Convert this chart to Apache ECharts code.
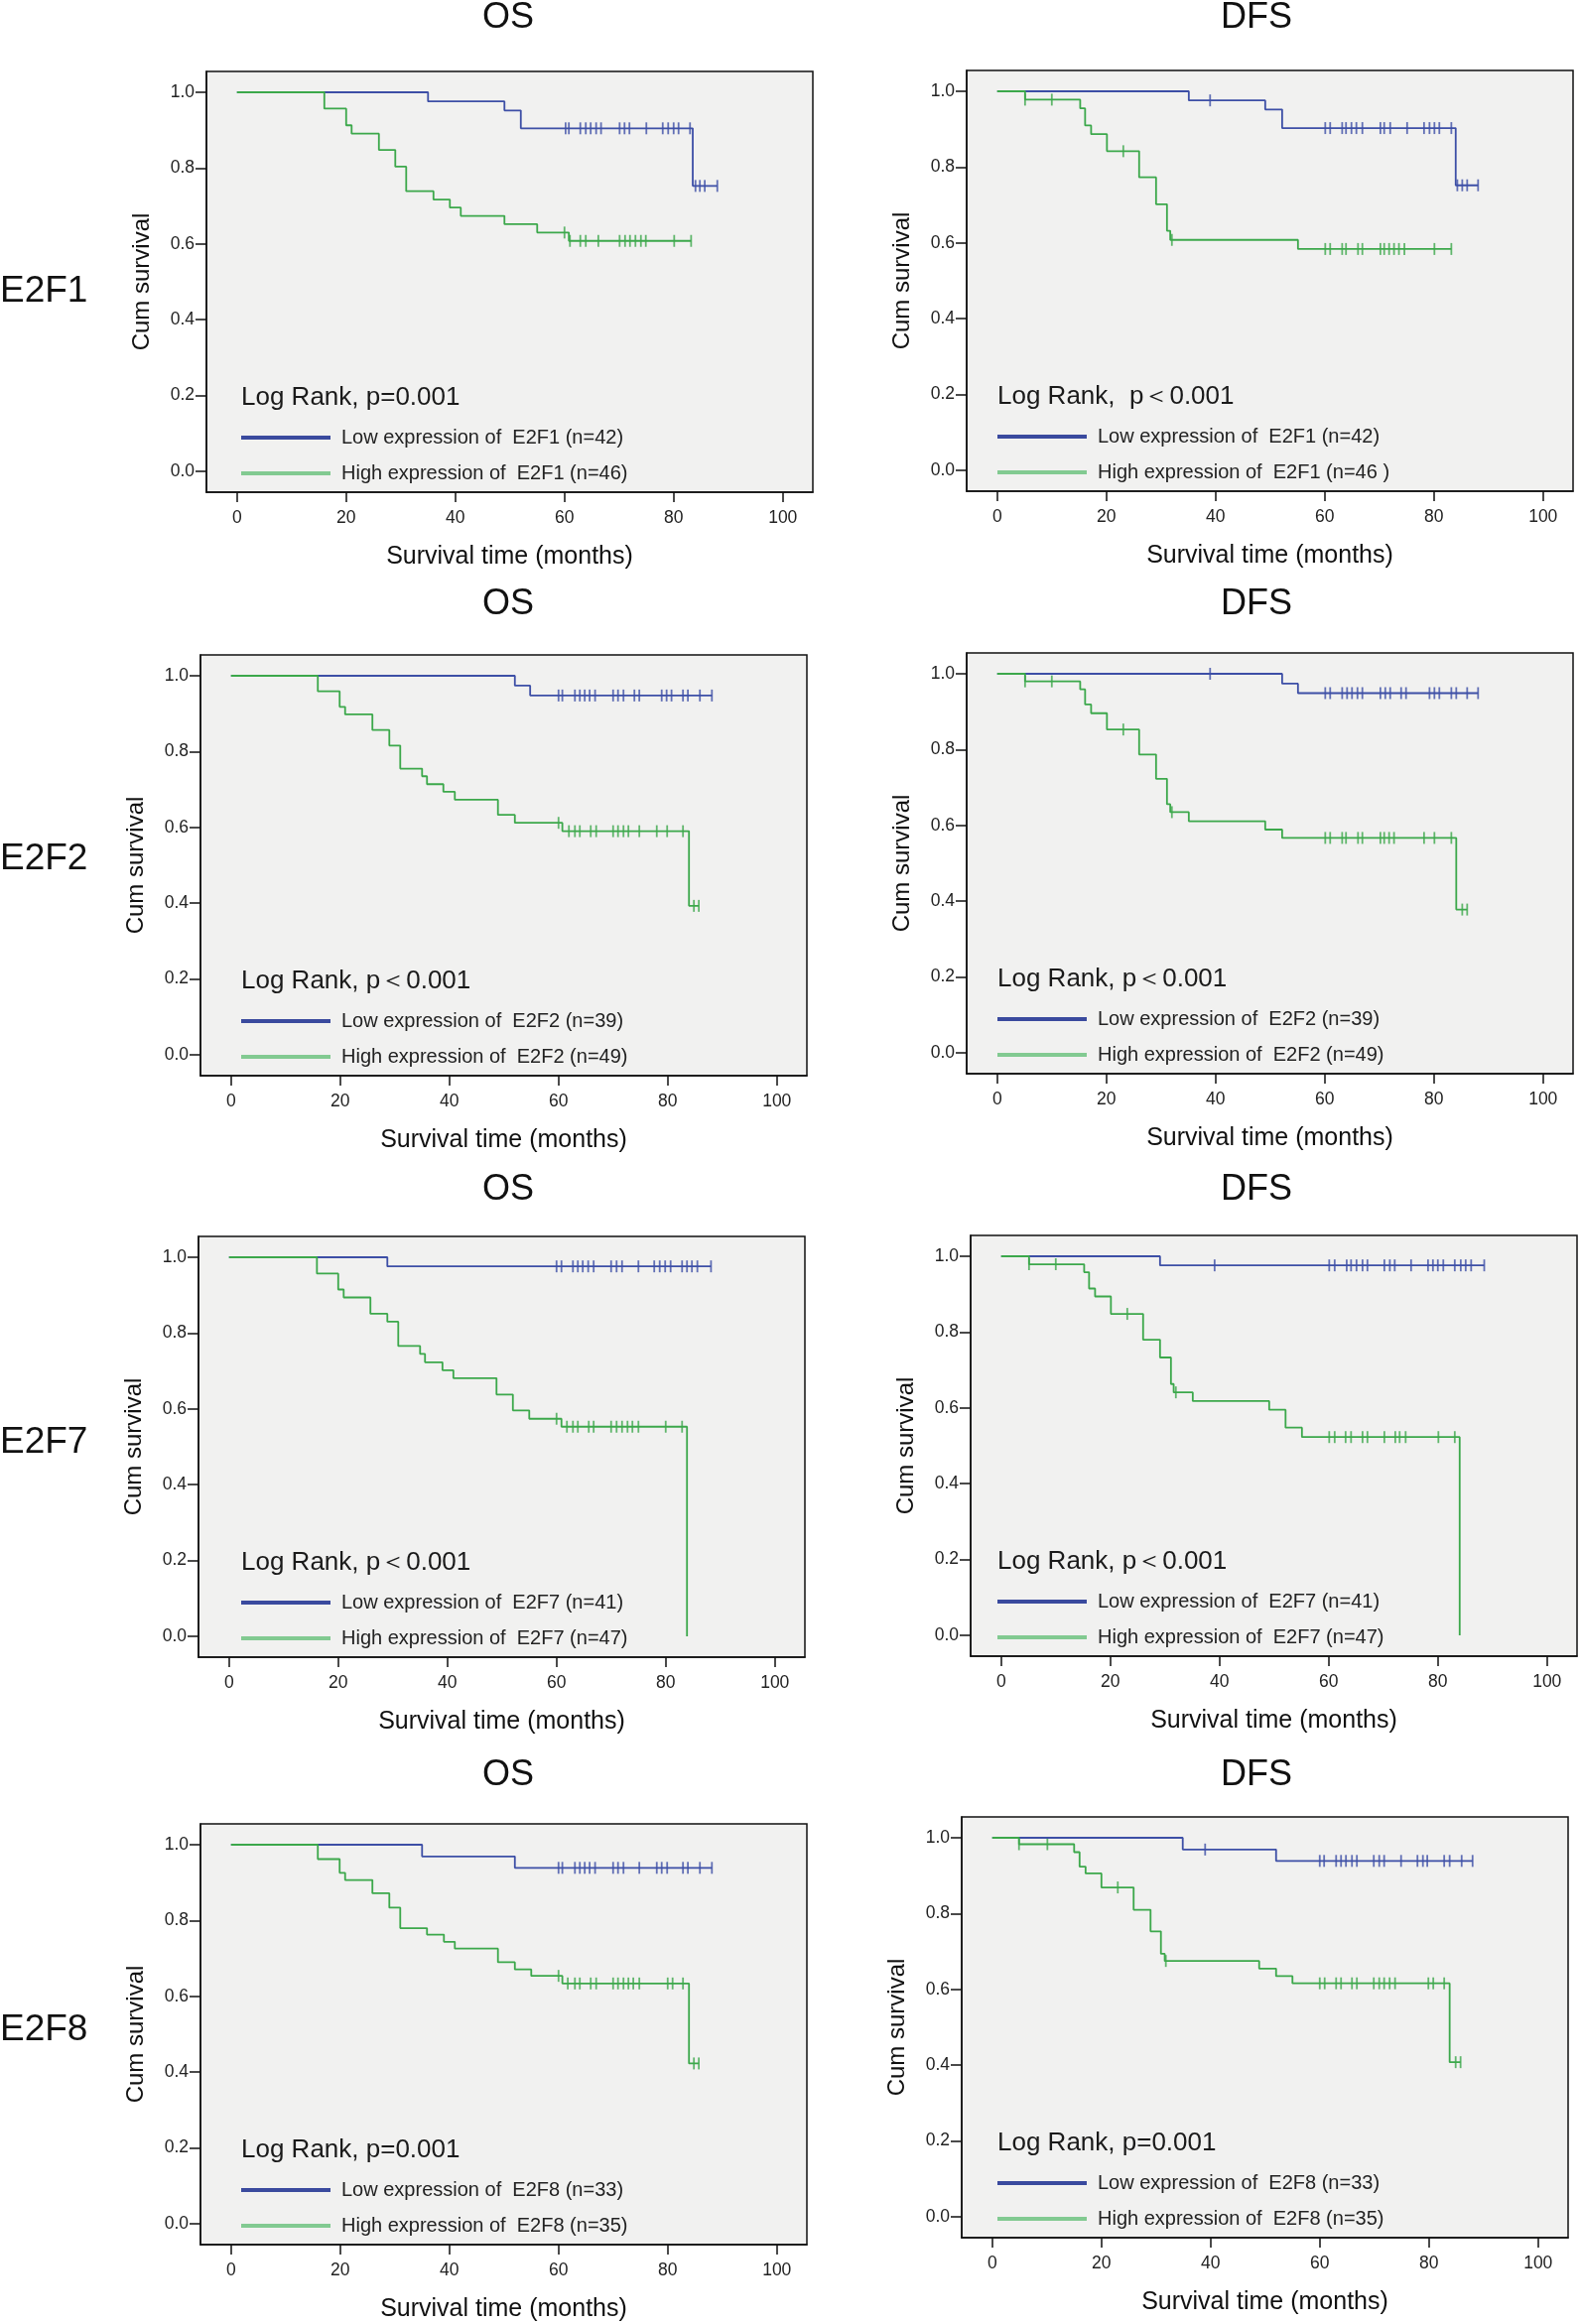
<!DOCTYPE html>
<html>
<head>
<meta charset="utf-8">
<script src="https://cdn.jsdelivr.net/npm/echarts@6/dist/echarts.min.js"></script>
<style>
html,body{margin:0;padding:0;background:#ffffff;}
#chart{width:1593px;height:2342px;}
</style>
</head>
<body>
<div id="chart"></div>
<script>
// ---------- DATA ----------
const xTicks = [0, 20, 40, 60, 80, 100];
const yTicks = [0, 0.2, 0.4, 0.6, 0.8, 1.0];
const genes = ['E2F1', 'E2F2', 'E2F7', 'E2F8'];
const endpoints = ['OS', 'DFS'];
const pTexts = ['Log Rank, p=0.001', 'Log Rank,  p\uFF1C0.001', 'Log Rank, p\uFF1C0.001', 'Log Rank, p\uFF1C0.001',
                'Log Rank, p\uFF1C0.001', 'Log Rank, p\uFF1C0.001', 'Log Rank, p=0.001', 'Log Rank, p=0.001'];
const lowNames = ['Low expression of  E2F1 (n=42)', 'Low expression of  E2F1 (n=42)',
                  'Low expression of  E2F2 (n=39)', 'Low expression of  E2F2 (n=39)',
                  'Low expression of  E2F7 (n=41)', 'Low expression of  E2F7 (n=41)',
                  'Low expression of  E2F8 (n=33)', 'Low expression of  E2F8 (n=33)'];
const highNames = ['High expression of  E2F1 (n=46)', 'High expression of  E2F1 (n=46 )',
                   'High expression of  E2F2 (n=49)', 'High expression of  E2F2 (n=49)',
                   'High expression of  E2F7 (n=47)', 'High expression of  E2F7 (n=47)',
                   'High expression of  E2F8 (n=35)', 'High expression of  E2F8 (n=35)'];

// step curves: [time (months), survival after that time]
const osE2F1Low = [[0,1],[35,0.976],[49,0.952],[52,0.905],[83.5,0.753],[88,0.753]];
const osE2F1LowCensor = [60.2,60.8,62.9,63.9,64.8,65.8,66.7,70.1,71.0,71.9,75.0,78.0,79.0,80.0,80.9,83.0,84.0,84.8,85.7,88.0];
const osE2F1High = [[0,1],[16,0.957],[20,0.913],[21,0.891],[26,0.848],[29,0.804],[31,0.739],[36,0.717],[39,0.696],[41,0.674],[49,0.652],[55,0.630],[60.8,0.608],[83.2,0.608]];
const osE2F1HighCensor = [60.0,61.0,62.9,63.9,66.2,70.1,71.1,72.0,73.0,74.0,74.9,80.1,83.2];

const dfsE2F1Low = [[0,1],[35.1,0.976],[49.1,0.952],[52.2,0.903],[84.0,0.752],[88.1,0.752]];
const dfsE2F1LowCensor = [39.0,60.1,61.0,63.2,63.9,64.9,65.8,66.9,70.2,70.9,72.0,75.1,78.2,79.2,80.1,81.0,83.2,84.3,85.2,86.1,88.1];
const dfsE2F1High = [[0,1],[5.1,0.978],[15.2,0.955],[16.1,0.910],[17.2,0.887],[20.1,0.842],[26.0,0.773],[29.1,0.702],[31.1,0.632],[31.7,0.608],[55.1,0.584],[83.2,0.584]];
const dfsE2F1HighCensor = [5.1,10.0,23.1,32.0,60.1,61.0,63.2,63.9,66.1,66.9,70.2,70.9,71.8,72.7,73.6,74.6,80.1,83.2];

const osE2F2Low = [[0,1],[52.0,0.974],[54.8,0.948],[88.1,0.948]];
const osE2F2LowCensor = [60.0,60.7,63.0,63.9,64.8,65.7,66.7,70.0,70.9,71.9,73.9,74.8,78.9,79.8,80.7,82.8,83.7,85.9,88.1];
const osE2F2High = [[0,1],[15.9,0.959],[19.9,0.918],[20.9,0.898],[25.9,0.857],[29.0,0.816],[31.0,0.755],[35.0,0.735],[35.9,0.714],[38.9,0.694],[41.0,0.673],[48.9,0.633],[52.0,0.612],[60.7,0.590],[83.9,0.393],[85.7,0.393]];
const osE2F2HighCensor = [60.0,61.9,63.0,63.9,65.9,66.9,70.0,70.9,71.9,72.8,74.8,78.0,79.9,82.8,84.8,85.7];

const dfsE2F2Low = [[0,1],[52.2,0.974],[55.1,0.949],[88.1,0.949]];
const dfsE2F2LowCensor = [39.0,60.1,61.0,63.2,64.1,65.0,66.0,66.9,70.2,71.1,72.0,74.0,74.9,79.2,80.1,81.0,83.2,84.1,86.1,88.1];
const dfsE2F2High = [[0,1],[5.1,0.980],[15.2,0.959],[16.1,0.919],[17.2,0.896],[20.1,0.853],[26.0,0.787],[29.1,0.723],[31.1,0.656],[31.7,0.635],[35.1,0.611],[49.1,0.589],[52.2,0.567],[84.1,0.378],[86.1,0.378]];
const dfsE2F2HighCensor = [5.1,10.0,23.1,32.0,60.1,61.0,63.2,63.9,66.1,66.9,70.2,70.9,71.8,72.7,78.2,80.1,83.2,85.2,86.1];

const osE2F7Low = [[0,1],[29.0,0.976],[88.3,0.976]];
const osE2F7LowCensor = [60.0,60.9,63.0,63.9,64.8,65.8,66.8,70.0,71.0,72.0,75.0,77.9,78.9,79.9,80.9,83.0,83.9,84.8,85.8,88.3];
const osE2F7High = [[0,1],[16.1,0.957],[20.0,0.915],[21.0,0.894],[25.9,0.851],[29.0,0.830],[31.0,0.766],[35.0,0.745],[35.9,0.723],[39.1,0.702],[41.1,0.681],[49.0,0.638],[52.0,0.596],[55.0,0.574],[60.9,0.553],[83.9,0]];
const osE2F7HighCensor = [60.0,61.9,63.0,63.9,65.9,66.8,70.0,71.0,72.0,73.0,73.9,75.0,80.0,83.0];

const dfsE2F7Low = [[0,1],[29.1,0.976],[88.5,0.976]];
const dfsE2F7LowCensor = [39.1,60.1,61.1,63.3,64.1,65.1,66.2,67.1,70.2,71.2,72.1,75.1,78.2,79.1,80.0,81.0,83.1,84.2,85.1,86.1,88.5];
const dfsE2F7High = [[0,1],[5.1,0.979],[15.2,0.958],[16.1,0.915],[17.2,0.894],[20.1,0.848],[26.0,0.780],[29.1,0.733],[31.1,0.663],[31.6,0.641],[35.1,0.618],[49.1,0.595],[52.1,0.548],[55.1,0.523],[84.0,0]];
const dfsE2F7HighCensor = [5.1,10.0,23.1,32.0,60.1,61.1,63.1,64.1,66.2,67.1,70.2,72.2,73.0,74.1,80.1,83.1];

const osE2F8Low = [[0,1],[35.0,0.969],[52.0,0.939],[88.1,0.939]];
const osE2F8LowCensor = [60.0,60.7,63.0,63.9,64.8,65.7,66.7,70.0,70.9,71.9,74.8,78.0,78.9,79.9,82.8,83.7,85.9,88.1];
const osE2F8High = [[0,1],[15.9,0.962],[19.9,0.926],[20.9,0.907],[25.9,0.872],[29.0,0.834],[31.0,0.780],[35.9,0.763],[39.0,0.744],[41.0,0.726],[48.9,0.690],[52.0,0.671],[55.0,0.654],[60.7,0.634],[83.9,0.423],[85.7,0.423]];
const osE2F8HighCensor = [60.0,61.7,63.0,63.9,65.9,66.9,70.0,70.9,71.9,72.8,73.7,74.8,80.0,80.9,82.8,84.8,85.7];

const dfsE2F8Low = [[0,1],[34.9,0.969],[52.0,0.939],[88.0,0.939]];
const dfsE2F8LowCensor = [39.0,60.0,60.8,63.0,63.9,64.8,65.9,66.8,69.9,70.9,71.8,74.9,77.9,78.9,79.7,82.8,83.8,86.0,88.0];
const dfsE2F8High = [[0,1],[4.9,0.983],[15.0,0.962],[16.0,0.924],[17.1,0.906],[20.0,0.869],[25.9,0.810],[29.0,0.753],[30.9,0.694],[31.6,0.675],[48.9,0.655],[52.0,0.635],[55.0,0.616],[83.8,0.408],[85.8,0.408]];
const dfsE2F8HighCensor = [4.9,10.1,23.0,31.8,60.0,60.9,63.0,63.9,65.9,66.8,69.9,70.9,71.8,72.8,73.8,79.9,80.8,82.8,84.9,85.8];

const lowCurves = [osE2F1Low, dfsE2F1Low, osE2F2Low, dfsE2F2Low, osE2F7Low, dfsE2F7Low, osE2F8Low, dfsE2F8Low];
const lowCensors = [osE2F1LowCensor, dfsE2F1LowCensor, osE2F2LowCensor, dfsE2F2LowCensor, osE2F7LowCensor, dfsE2F7LowCensor, osE2F8LowCensor, dfsE2F8LowCensor];
const highCurves = [osE2F1High, dfsE2F1High, osE2F2High, dfsE2F2High, osE2F7High, dfsE2F7High, osE2F8High, dfsE2F8High];
const highCensors = [osE2F1HighCensor, dfsE2F1HighCensor, osE2F2HighCensor, dfsE2F2HighCensor, osE2F7HighCensor, dfsE2F7HighCensor, osE2F8HighCensor, dfsE2F8HighCensor];

// ---------- LAYOUT ----------
const boxes = [
  {left: 208, top: 72}, {left: 974, top: 71},
  {left: 202, top: 660}, {left: 974, top: 658},
  {left: 200, top: 1246}, {left: 978, top: 1245},
  {left: 202, top: 1838}, {left: 969, top: 1831}
];
const boxW = 611, boxH = 424;
const textLeft = [243, 1005];
const headerY = [18, 609, 1199, 1789];
const headerX = [512, 1266];
const rowLabelY = [294, 866, 1454, 2046];

const FONT = '"Liberation Sans", Arial, Helvetica, sans-serif';
const BLUE = '#3d4fa6', GREEN = '#3ca84b';
const BLUE_LEG = '#3a4a9e', GREEN_LEG = '#82ca91';

function survivalAt(steps, t) {
  let v = steps[0][1];
  for (const s of steps) { if (s[0] <= t) v = s[1]; }
  return v;
}

const grids = [], xAxes = [], yAxes = [], series = [], titles = [], legends = [];

headerY.forEach((y, r) => {
  endpoints.forEach((ep, c) => {
    titles.push({text: ep, left: headerX[c], top: y, textAlign: 'center', textVerticalAlign: 'middle', padding: 0,
      textStyle: {fontFamily: FONT, fontSize: 36, fontWeight: 'normal', color: '#111'}});
  });
  titles.push({text: genes[r], left: 0, top: rowLabelY[r], textAlign: 'left', textVerticalAlign: 'middle', padding: 0,
    textStyle: {fontFamily: FONT, fontSize: 37, fontWeight: 'normal', color: '#111'}});
});

boxes.forEach((b, i) => {
  const col = i % 2;
  grids.push({show: true, left: b.left, top: b.top, width: boxW, height: boxH,
    backgroundColor: '#f1f1f0', borderColor: '#111', borderWidth: 1.5, containLabel: false});
  xAxes.push({gridIndex: i, type: 'value', min: -5.6, max: 105.5,
    axisLine: {show: true, onZero: false, lineStyle: {color: '#111', width: 1.5}},
    axisTick: {show: true, customValues: xTicks, length: 10, inside: false, lineStyle: {color: '#111', width: 1.5}},
    axisLabel: {customValues: xTicks, margin: 17, fontSize: 17.5, color: '#222', fontFamily: FONT},
    splitLine: {show: false},
    name: 'Survival time (months)', nameLocation: 'middle', nameGap: 53,
    nameTextStyle: {fontSize: 25, color: '#111', fontFamily: FONT}});
  yAxes.push({gridIndex: i, type: 'value', min: -0.055, max: 1.055,
    axisLine: {show: true, onZero: false, lineStyle: {color: '#111', width: 1.5}},
    axisTick: {show: true, customValues: yTicks, length: 11, inside: false, lineStyle: {color: '#111', width: 1.5}},
    axisLabel: {customValues: yTicks, margin: 12, fontSize: 17.5, color: '#222', fontFamily: FONT,
      formatter: v => v.toFixed(1)},
    splitLine: {show: false},
    name: 'Cum survival', nameLocation: 'middle', nameGap: 53,
    nameTextStyle: {fontSize: 24, color: '#111', fontFamily: FONT}});

  const lowSteps = lowCurves[i], highSteps = highCurves[i];
  series.push({type: 'line', name: lowNames[i], xAxisIndex: i, yAxisIndex: i, step: 'end',
    data: lowSteps, symbol: 'none', showSymbol: false, silent: true,
    lineStyle: {color: BLUE, width: 1.8}, itemStyle: {color: BLUE_LEG}});
  series.push({type: 'scatter', name: 'censor-low-' + i, xAxisIndex: i, yAxisIndex: i,
    data: lowCensors[i].map(t => [t, survivalAt(lowSteps, t)]),
    symbol: 'rect', symbolSize: [1.8, 12], silent: true, itemStyle: {color: BLUE}});
  series.push({type: 'line', name: highNames[i], xAxisIndex: i, yAxisIndex: i, step: 'end',
    data: highSteps, symbol: 'none', showSymbol: false, silent: true,
    lineStyle: {color: GREEN, width: 1.8}, itemStyle: {color: GREEN_LEG}});
  series.push({type: 'scatter', name: 'censor-high-' + i, xAxisIndex: i, yAxisIndex: i,
    data: highCensors[i].map(t => [t, survivalAt(highSteps, t)]),
    symbol: 'rect', symbolSize: [1.8, 12], silent: true, itemStyle: {color: GREEN}});

  titles.push({text: pTexts[i], left: textLeft[col], top: b.top + 329, textAlign: 'left', textVerticalAlign: 'middle', padding: 0,
    textStyle: {fontFamily: FONT, fontSize: 26, fontWeight: 'normal', color: '#1a1a1a'}});
  legends.push({orient: 'vertical', left: textLeft[col], top: b.top + 359, padding: 0,
    itemWidth: 90, itemHeight: 4, itemGap: 16, icon: 'rect', selectedMode: false,
    data: [{name: lowNames[i], itemStyle: {color: BLUE_LEG}}, {name: highNames[i], itemStyle: {color: GREEN_LEG}}],
    textStyle: {fontFamily: FONT, fontSize: 20, color: '#222', padding: [0, 0, 0, 6]}});
});

const chart = echarts.init(document.getElementById('chart'), null, {renderer: 'canvas'});
chart.setOption({
  animation: false,
  backgroundColor: '#ffffff',
  title: titles,
  legend: legends,
  grid: grids,
  xAxis: xAxes,
  yAxis: yAxes,
  series: series
});
</script>
</body>
</html>
